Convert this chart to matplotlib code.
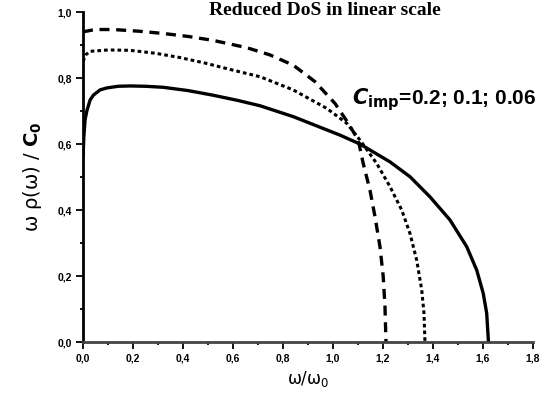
import matplotlib
matplotlib.use("Agg")
from matplotlib import pyplot as plt
from matplotlib.ticker import MultipleLocator, FuncFormatter

# values
w_solid = [0.0, 0.003, 0.008, 0.015, 0.028, 0.041, 0.068, 0.095, 0.14, 0.188, 0.25, 0.32, 0.42,
           0.52, 0.62, 0.708, 0.841, 0.908, 1.028, 1.108, 1.228, 1.308, 1.388, 1.468, 1.535,
           1.575, 1.601, 1.615, 1.622]
r_solid = [0.56, 0.62, 0.673, 0.70, 0.733, 0.748, 0.764, 0.770, 0.775, 0.776, 0.775, 0.772, 0.762,
           0.748, 0.732, 0.716, 0.683, 0.663, 0.627, 0.60, 0.546, 0.501, 0.44, 0.37, 0.289,
           0.218, 0.148, 0.087, 0.0]

w_dot = [0.0, 0.01, 0.028, 0.1, 0.188, 0.29, 0.388, 0.49, 0.588, 0.708, 0.841, 0.975, 1.055,
         1.108, 1.175, 1.228, 1.275, 1.308, 1.335, 1.355, 1.364, 1.368]
r_dot = [0.85, 0.87, 0.881, 0.885, 0.884, 0.875, 0.862, 0.845, 0.826, 0.804, 0.764, 0.708, 0.663,
         0.612, 0.541, 0.471, 0.40, 0.329, 0.248, 0.158, 0.087, 0.0]

w_dash = [0.0, 0.048, 0.121, 0.221, 0.321, 0.421, 0.521, 0.655, 0.748, 0.841, 0.928, 1.008,
          1.061, 1.101, 1.121, 1.148, 1.168, 1.188, 1.201, 1.208, 1.212]
r_dash = [0.94, 0.947, 0.947, 0.942, 0.935, 0.926, 0.914, 0.892, 0.87, 0.839, 0.789, 0.723,
          0.663, 0.612, 0.541, 0.46, 0.38, 0.289, 0.198, 0.107, 0.0]

x_ticks = [0.0, 0.2, 0.4, 0.6, 0.8, 1.0, 1.2, 1.4, 1.6, 1.8]
y_ticks = [0.0, 0.2, 0.4, 0.6, 0.8, 1.0]

fig = plt.figure(figsize=(5.5, 4.01), dpi=100)
ax = fig.add_axes([0.151, 0.147, 0.818, 0.823])

ax.plot(w_solid, r_solid, color="black", lw=2.4, solid_capstyle="butt")
ax.plot(w_dot, r_dot, color="black", lw=2.2, linestyle=(0, (1.2, 1.0)))
ax.plot(w_dash, r_dash, color="black", lw=2.4, linestyle=(0, (3.0, 2.0)))

ax.set_xlim(0, 1.8)
ax.set_ylim(0, 1.0)
ax.set_xticks(x_ticks)
ax.set_yticks(y_ticks)
ax.xaxis.set_minor_locator(MultipleLocator(0.1))
ax.yaxis.set_minor_locator(MultipleLocator(0.1))

comma = FuncFormatter(lambda v, pos: ("%.1f" % v).replace(".", ","))
ax.xaxis.set_major_formatter(comma)
ax.yaxis.set_major_formatter(comma)

for s in ["top", "right"]:
    ax.spines[s].set_visible(False)
for s in ["left", "bottom"]:
    ax.spines[s].set_linewidth(2.0)
ax.spines["bottom"].set_color("#444444")

ax.tick_params(which="major", direction="out", length=5, width=1.3, labelsize=7.5, pad=3)
ax.tick_params(which="minor", direction="out", length=2.5, width=1.3)
for lab in ax.get_xticklabels() + ax.get_yticklabels():
    lab.set_fontweight("bold")
    lab.set_family("Liberation Sans")

ax.set_xlabel("ω/ω$_0$", fontsize=12, labelpad=4)
ax.set_ylabel("ω ρ(ω) / $\\mathbf{C_0}$", fontsize=14, labelpad=10)

ax.text(0.538, 1.006, "Reduced DoS in linear scale", transform=ax.transAxes, ha="center",
        va="center", fontsize=14, fontweight="bold", family="Liberation Serif")

ax.text(1.076, 0.735, r"$\boldsymbol{C}_{\mathbf{imp}}$=0.2; 0.1; 0.06", fontsize=15,
        fontweight="bold", family="Liberation Sans", va="center")

fig.savefig("out.png", dpi=100)
